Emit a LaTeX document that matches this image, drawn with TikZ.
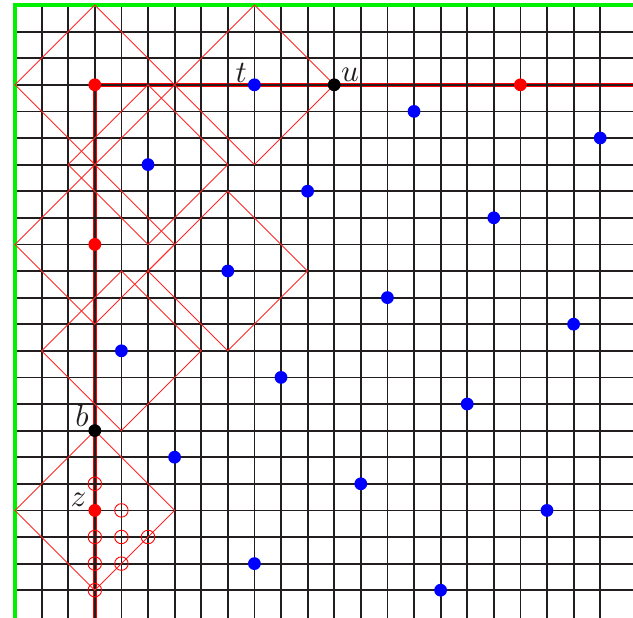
\documentclass[tikz,border=0pt]{standalone}
\definecolor{gridc}{RGB}{34,30,31}
\definecolor{greenc}{RGB}{0,240,0}
\begin{document}
\begin{tikzpicture}[x=26.6pt,y=-26.6pt,
  gridline/.style={line width=1.8pt, gridc},
  border/.style={line width=3.6pt, greenc},
  redline/.style={line width=4.2pt, red},
  diam/.style={line width=0.9pt, red!85!white},
  dot/.style={circle, inner sep=0pt, minimum size=12.8pt},
  reddot/.style={dot, fill=red},
  bluedot/.style={dot, fill=blue},
  blackdot/.style={dot, fill=black},
  hollow/.style={circle, draw=red, line width=0.9pt, inner sep=0pt, minimum size=13.5pt},
  lbl/.style={inner sep=0pt, scale=3.1, text=gridc}]
\useasboundingbox (-0.564,-0.188) rectangle (23.233,23.045);
% free ends
\coordinate (east) at (23.233,3);
\coordinate (south) at (3,23.045);
\coordinate (tl) at (0,0);
\coordinate (tr) at (23.233,0);
\coordinate (bl) at (0,23.045);
% thick red lines (under grid)
\draw[redline] (3,3) -- (east);
\draw[redline] (3,3) -- (south);
% grid
\foreach \j in {0,...,22} \draw[gridline] (0,\j) -- (23.233,\j);
\foreach \k in {0,...,22} \draw[gridline] (\k,0) -- (\k,23.045);
% green borders
\draw[border] (bl) -- (tl) -- (tr);
% diamonds (radius 3)
\foreach \cx/\cy in {3/3, 9/3, 5/6, 3/9, 8/10, 4/13, 3/19}
  \draw[diam] (\cx,\cy-3) -- (\cx+3,\cy) -- (\cx,\cy+3) -- (\cx-3,\cy) -- cycle;
% hollow circles
\foreach \hx/\hy [count=\i] in {3/18, 4/19, 3/20, 4/20, 5/20, 3/21, 4/21, 3/22}
  \node[hollow] (h\i) at (\hx,\hy) {};
% red dots
\node[reddot] (r1) at (3,3) {};
\node[reddot] (r2) at (19,3) {};
\node[reddot] (r3) at (3,9) {};
\node[reddot] (z) at (3,19) {};
% black dots
\node[blackdot] (u) at (12,3) {};
\node[blackdot] (b) at (3,16) {};
% blue dots
\foreach \bx/\by [count=\i] in {9/3, 15/4, 22/5, 5/6, 11/7, 18/8, 8/10, 14/11, 21/12,
   4/13, 10/14, 17/15, 6/17, 13/18, 20/19, 9/21, 16/22}
  \node[bluedot] (bl\i) at (\bx,\by) {};
% labels
\node[lbl] (lt) at (8.50,2.54) {$t$};
\node[lbl] (lu) at (12.59,2.63) {$u$};
\node[lbl] (lb) at (2.52,15.45) {$b$};
\node[lbl] (lz) at (2.39,18.6) {$z$};
\end{tikzpicture}
\end{document}
